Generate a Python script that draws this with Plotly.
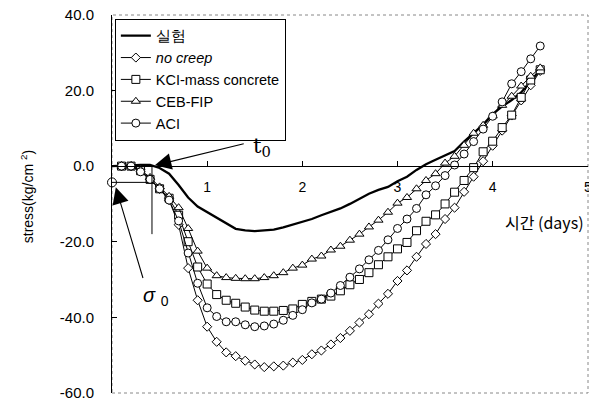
import plotly.graph_objects as go

# time axis (days) shared by the model curves
days = [round(0.1 * k, 1) for k in range(1, 46)]

# measured stress (kg/cm^2)
exp_days = [0.0] + days
exp_stress = [0.0, 0.0, 0.2, 0.3, 0.3, -0.5, -2.0, -5.0, -8.3, -10.7, -12.2,
              -13.5, -15.0, -16.6, -17.0, -17.2, -17.0, -16.8, -16.2, -15.5, -14.6,
              -14.0, -13.0, -12.2, -11.2, -10.0, -8.7, -7.3, -6.3, -5.5, -4.0,
              -2.8, -1.0, 0.5, 1.7, 2.8, 4.0, 6.5, 8.7, 11.0, 13.8,
              15.8, 17.5, 19.5, 22.5, 25.5]

no_creep = [0.0, 0.0, -1.0, -3.5, -6.0, -9.0, -15.5, -27.0, -35.5, -42.5,
            -46.5, -49.3, -50.3, -51.5, -52.5, -53.2, -53.0, -52.8, -52.0, -51.3,
            -49.8, -48.8, -47.2, -45.5, -43.6, -41.4, -39.2, -36.4, -33.8, -30.4,
            -27.6, -24.0, -20.6, -18.0, -14.0, -11.0, -6.8, -2.8, 1.3, 5.4,
            9.4, 13.4, 17.4, 21.4, 25.2]

kci_mass = [0.0, 0.0, -1.2, -3.5, -6.0, -8.5, -13.0, -20.0, -26.7, -31.2,
            -34.0, -35.5, -36.3, -37.3, -38.1, -38.4, -38.4, -38.2, -37.8, -36.6,
            -35.8, -35.2, -34.4, -33.0, -31.4, -30.0, -28.2, -26.1, -24.0, -21.9,
            -20.2, -17.1, -14.6, -12.9, -10.0, -6.9, -3.8, -0.4, 3.8, 6.6,
            10.2, 13.5, 18.2, 22.8, 25.5]

ceb_fip = [0.0, 0.0, -1.0, -3.0, -5.5, -8.0, -11.0, -16.5, -22.5, -27.0,
           -29.0, -29.5, -29.7, -29.8, -29.8, -29.5, -29.0, -28.2, -27.0, -26.2,
           -24.6, -23.8, -22.2, -21.2, -19.6, -18.0, -16.1, -14.3, -12.2, -9.8,
           -8.3, -6.0, -3.8, -2.0, 0.8, 2.6, 5.5, 8.7, 10.8, 13.3,
           16.1, 18.5, 21.2, 23.8, 26.0]

aci = [0.0, 0.0, -1.5, -3.5, -6.0, -9.0, -14.5, -23.0, -31.0, -37.5,
       -39.8, -41.2, -41.2, -42.0, -42.5, -42.3, -41.8, -40.8, -39.5, -38.0,
       -36.2, -35.2, -33.6, -31.6, -29.4, -27.2, -24.8, -22.3, -19.5, -16.5,
       -14.0, -11.2, -7.6, -5.2, -2.5, 0.3, 3.2, 6.5, 9.8, 13.2,
       17.0, 21.8, 25.0, 28.4, 31.8]

y_ticks = [-60, -40, -20, 0, 20, 40]
x_ticks = [1, 2, 3, 4, 5]

# time t0 at which stress starts to develop, and initial stress sigma0
T0 = 0.42
SIGMA0 = -4.3

FONT = "Liberation Sans, Arial, sans-serif"
KR_FONT = "Noto Sans CJK KR, sans-serif"

fig = go.Figure()

fig.add_trace(go.Scatter(
    x=exp_days, y=exp_stress, mode="lines", name="실험",
    line=dict(color="black", width=2.3),
))

model_series = [
    ("<i>no creep</i>", no_creep, "diamond", 7),
    ("KCI-mass concrete", kci_mass, "square", 8),
    ("CEB-FIP", ceb_fip, "triangle-up", 8),
    ("ACI", aci, "circle", 8),
]
for name, values, symbol, size in model_series:
    fig.add_trace(go.Scatter(
        x=days, y=values, mode="lines+markers", name=name,
        line=dict(color="black", width=1),
        marker=dict(symbol=symbol, size=size, color="white",
                    line=dict(color="black", width=1)),
    ))

# initial stress point on the stress axis
fig.add_trace(go.Scatter(
    x=[0], y=[SIGMA0], mode="markers", showlegend=False, cliponaxis=False,
    marker=dict(symbol="circle", size=9, color="white",
                line=dict(color="black", width=1)),
))

# guide lines marking t0 and sigma0
fig.add_shape(type="line", x0=0, x1=T0 - 0.04, y0=SIGMA0, y1=SIGMA0,
              line=dict(color="black", width=1))
fig.add_shape(type="line", x0=T0, x1=T0, y0=0, y1=-18,
              line=dict(color="black", width=1))

# dotted outer frame
fig.add_shape(type="rect", xref="paper", yref="paper", x0=0, x1=1, y0=0, y1=1,
              line=dict(color="#888", width=1, dash="dot"), layer="below")

# t0 arrow and label
fig.add_annotation(x=T0 + 0.03, y=0.2, ax=1.4, ay=6.0, axref="x", ayref="y",
                   text="", showarrow=True, arrowhead=2, arrowsize=3,
                   arrowwidth=1.1, arrowcolor="black")
fig.add_annotation(x=1.58, y=5.0, text="t<sub>0</sub>", showarrow=False,
                   font=dict(family="DejaVu Serif, serif", size=21, color="black"))

# sigma0 arrow and label
fig.add_annotation(x=0.04, y=-5.6, ax=0.33, ay=-30.0, axref="x", ayref="y",
                   text="", showarrow=True, arrowhead=2, arrowsize=3,
                   arrowwidth=1.1, arrowcolor="black")
fig.add_annotation(x=0.46, y=-34.6, text="<i>σ</i> <sub>0</sub>", showarrow=False,
                   font=dict(family=FONT, size=20, color="black"))

# axis titles
fig.add_annotation(xref="paper", yref="paper", x=-0.2, y=0.52,
                   text="stress(kg/cm <sup>2</sup>)", textangle=-90, showarrow=False,
                   font=dict(family=FONT, size=14, color="black"))
fig.add_annotation(xref="paper", yref="paper", x=0.995, y=0.452, xanchor="right",
                   text="시간 (days)", showarrow=False,
                   font=dict(family=KR_FONT, size=16, color="black"))

fig.update_layout(
    width=589, height=398,
    margin=dict(l=112, r=1, t=15, b=5),
    paper_bgcolor="white", plot_bgcolor="white",
    template="none",
    font=dict(family=FONT, size=14, color="black"),
    showlegend=True,
    legend=dict(x=0.006, y=0.99, xanchor="left", yanchor="top",
                bordercolor="black", borderwidth=1, bgcolor="white",
                font=dict(family=FONT, size=14.5, color="black"),
                tracegroupgap=0, itemwidth=30),
    xaxis=dict(range=[0, 5.002], anchor="free", position=0.6, side="bottom",
               tickvals=x_ticks, ticktext=[str(v) for v in x_ticks],
               ticks="inside", ticklen=5, tickcolor="black",
               showline=True, linecolor="black", linewidth=1,
               showgrid=False, zeroline=False, automargin=False,
               ticklabelstandoff=8, ticklabeloverflow="allow",
               tickfont=dict(size=14)),
    yaxis=dict(range=[-60.05, 40], tickvals=y_ticks,
               ticktext=[f"{v:.1f}" for v in y_ticks],
               ticks="inside", ticklen=5, tickcolor="black",
               showline=True, linecolor="black", linewidth=1,
               showgrid=False, zeroline=False, automargin=False,
               ticklabelstandoff=14, ticklabeloverflow="allow",
               tickfont=dict(size=15)),
)

fig.write_html("out.html")
